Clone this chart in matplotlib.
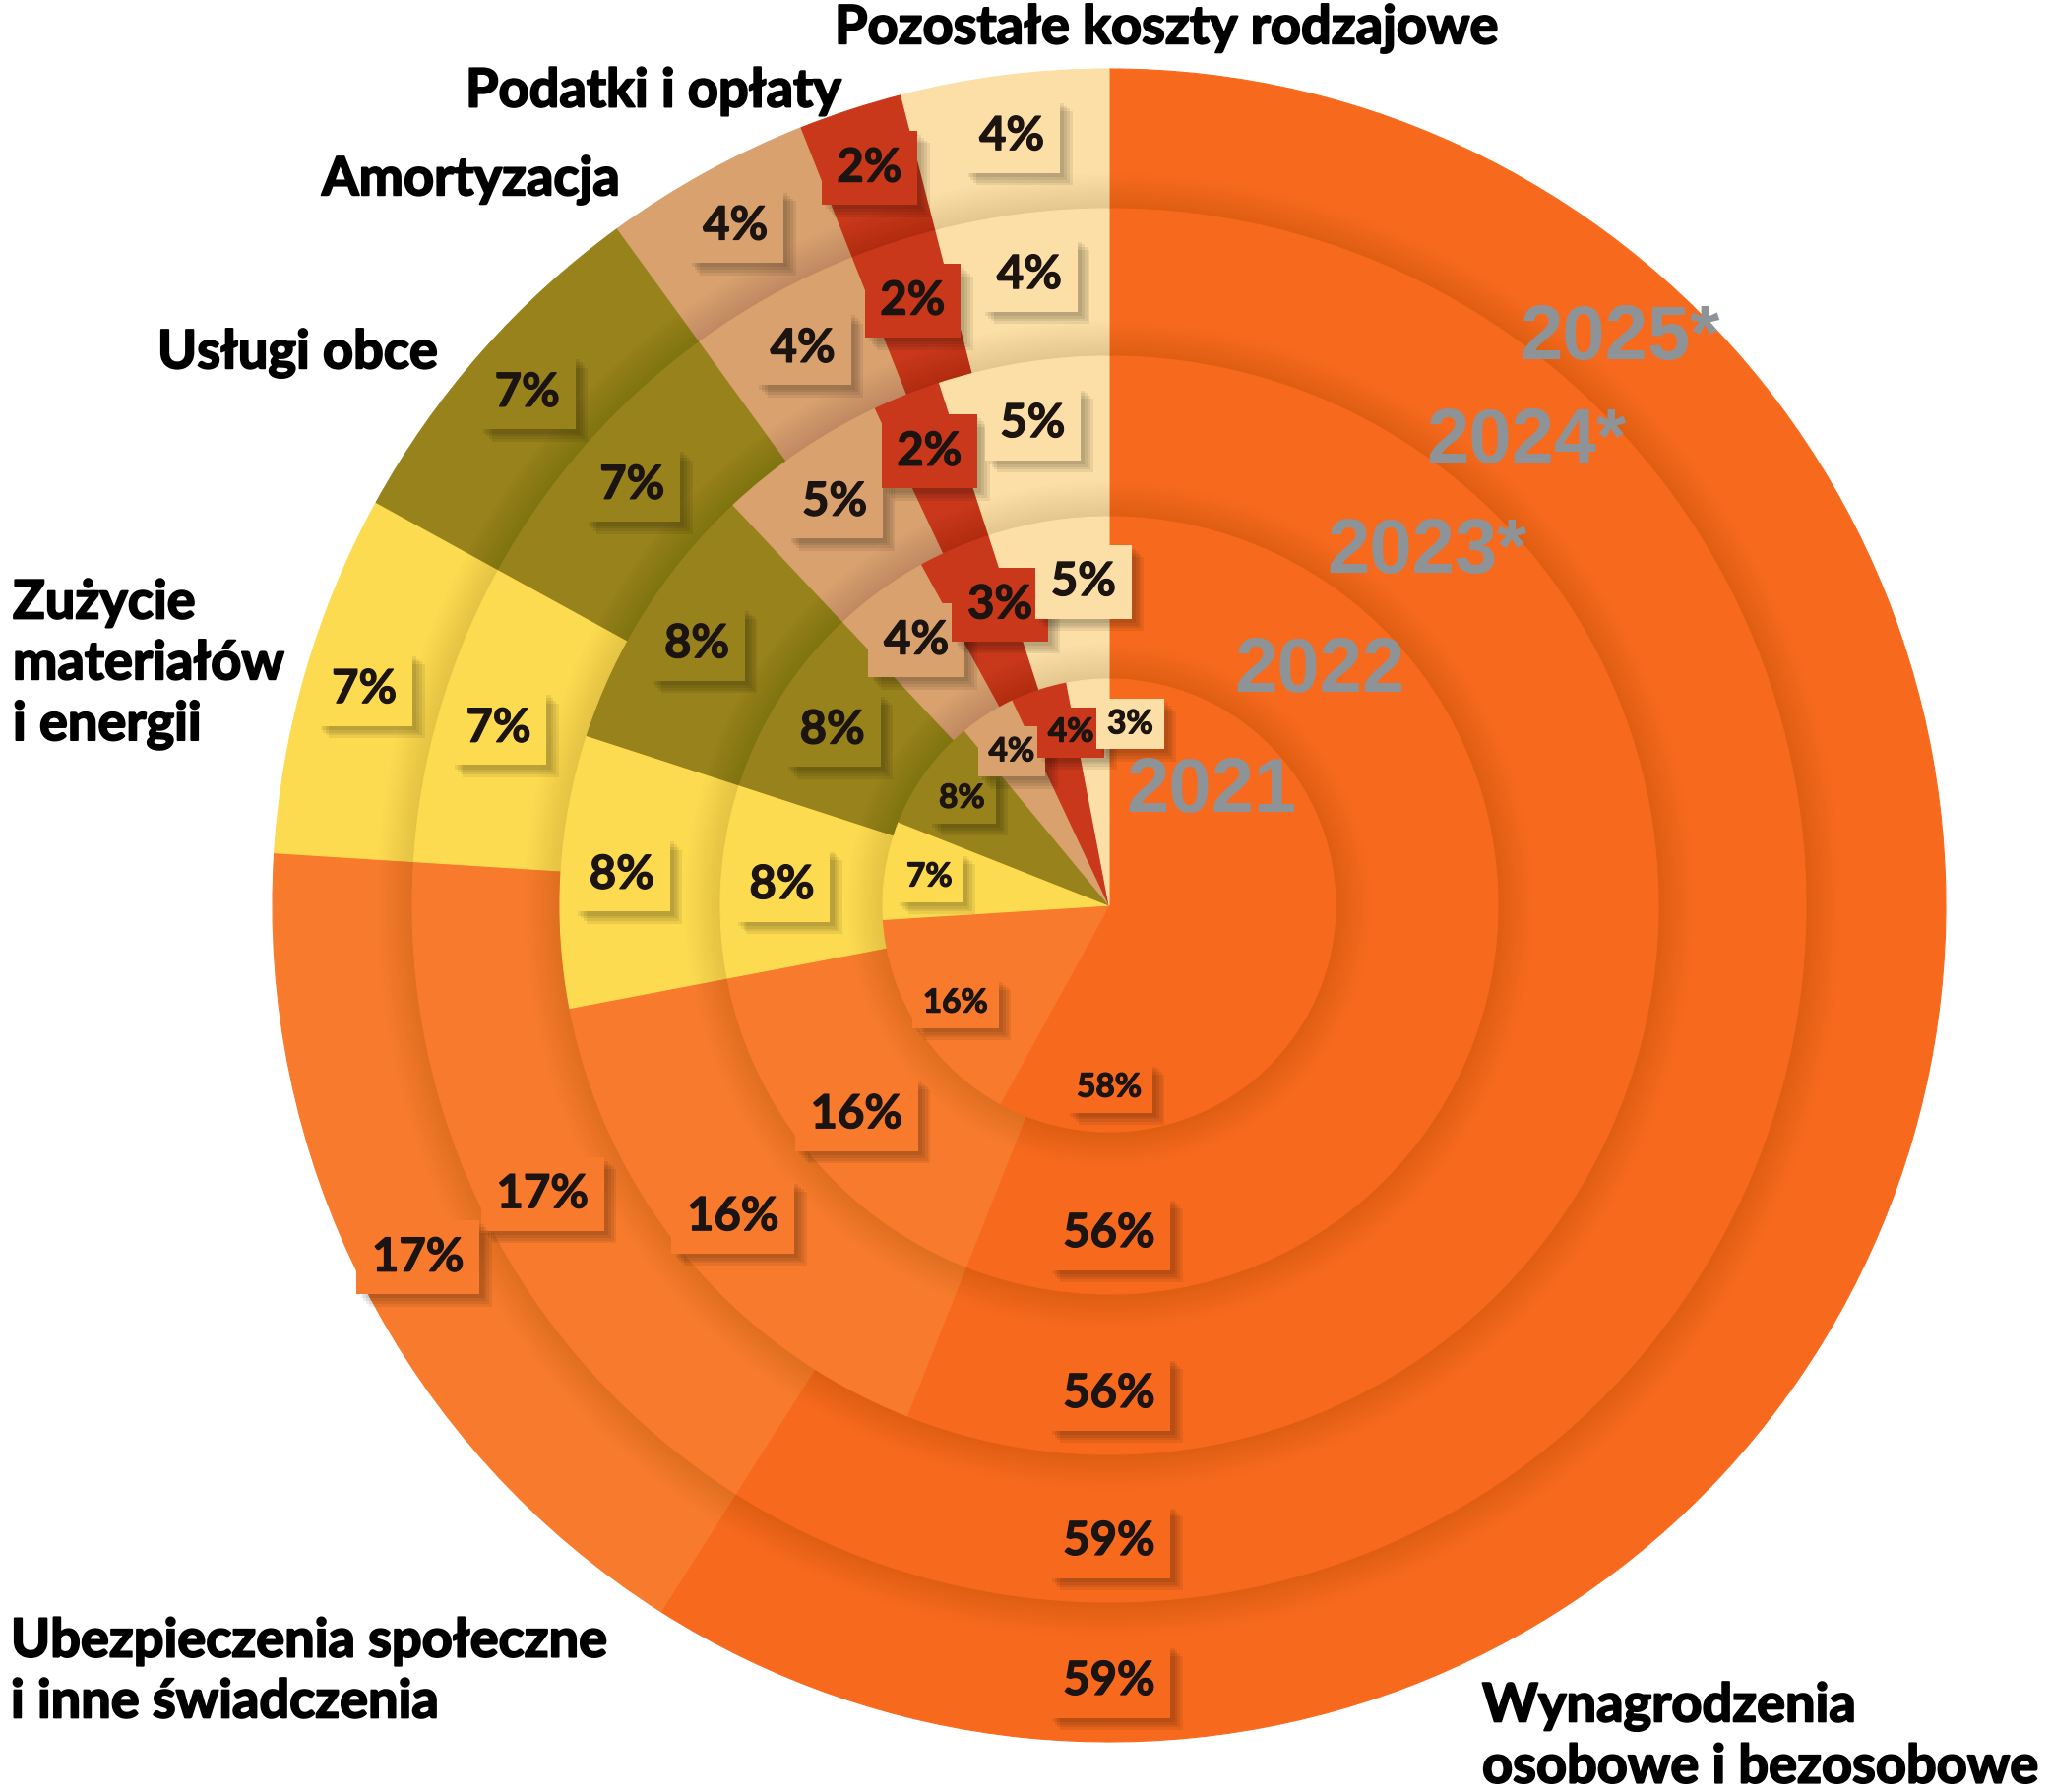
"""
Struktura kosztów rodzajowych 2021-2025* - nakładane wykresy kołowe
"""

import numpy as np
import matplotlib
matplotlib.use('Agg')
import matplotlib.pyplot as plt
from matplotlib.patches import Circle
import matplotlib.patheffects as pe

# ---- dane ----
categories = [
    'Wynagrodzenia\nosobowe i bezosobowe',
    'Ubezpieczenia społeczne\ni inne świadczenia',
    'Zużycie\nmateriałów\ni energii',
    'Usługi obce',
    'Amortyzacja',
    'Podatki i opłaty',
    'Pozostałe koszty rodzajowe',
]
years = ['2021', '2022', '2023*', '2024*', '2025*']
share_2021 = [58, 16, 7, 8, 4, 4, 3]
share_2022 = [56, 16, 8, 8, 4, 3, 5]
share_2023 = [56, 16, 8, 8, 5, 2, 5]
share_2024 = [59, 17, 7, 7, 4, 2, 4]
share_2025 = [59, 17, 7, 7, 4, 2, 4]
shares = [share_2021, share_2022, share_2023, share_2024, share_2025]

colors = ['#F76A1E', '#F87B2D', '#FDDB50', '#97821B', '#D8A16E', '#C9381B', '#FCDFA6']

# ---- układ (piksele) ----
W, H = 2084, 1821
cx, cy = 1127, H - 920
radii = [230, 395, 558, 708, 850]
font_main = ['Lato', 'DejaVu Sans']
n = len(years)

fig = plt.figure(figsize=(W / 100, H / 100), dpi=100)
ax = fig.add_axes([0, 0, 1, 1])

# kola od najwiekszego do najmniejszego, kazde wyzej od poprzedniego
for i in reversed(range(n)):
    z = 2 + (n - 1 - i)
    if i < n - 1:
        # miekki cien rzucany przez mniejsze kolo
        for k in range(12):
            ax.add_patch(Circle((cx, cy), radii[i] + 3 * (k + 1), color='black',
                                alpha=0.0075, lw=0, zorder=z - 0.5))
    wedges, _ = ax.pie(shares[i], radius=radii[i], center=(cx, cy), startangle=90,
                       counterclock=False, colors=colors,
                       wedgeprops=dict(linewidth=0.8))
    for w in wedges:
        w.set_edgecolor(w.get_facecolor())
        w.set_zorder(z)

# pie() ustawia wlasne granice - nadpisujemy je dopiero teraz
ax.set_xlim(0, W)
ax.set_ylim(0, H)
ax.set_aspect('equal')
ax.axis('off')

# miekki cien pod pudelkami etykiet
box_shadow = [pe.SimplePatchShadow(offset=(k, -k), shadow_rgbFace='black', alpha=0.07)
              for k in (9, 7, 5, 3)] + [pe.Normal()]
txt_bold = [pe.withStroke(linewidth=0.9, foreground='#1c1410')]


def boxed_label(x, y, s, fc, size):
    t = ax.text(x, y, s, color='#1c1410', fontsize=size, fontweight='bold', family=font_main,
                ha='center', va='center', zorder=10, path_effects=txt_bold,
                bbox=dict(boxstyle='square,pad=0.33', fc=fc, ec='none'))
    t.get_bbox_patch().set_path_effects(box_shadow)
    return t


# etykiety procentowe
renderer = fig.canvas.get_renderer()
for i, vals in enumerate(shares):
    r_lab = radii[i] - (45 if i == 0 else 62)
    size = 24 if i == 0 else 34
    cum = 0
    ring_labels = []
    for j, v in enumerate(vals):
        theta = np.deg2rad((cum + v / 2) / 100 * 360)
        cum += v
        if j == 0:
            theta = np.pi
        x = cx + r_lab * np.sin(theta)
        y = cy + r_lab * np.cos(theta)
        t = boxed_label(x, y, f'{v}%', colors[j], size)
        # rozsun etykiete, jesli nachodzi na poprzednia z tego samego kola
        if ring_labels:
            prev = ring_labels[-1].get_window_extent(renderer).expanded(1.25, 1.3)
            cur = t.get_window_extent(renderer).expanded(1.25, 1.3)
            if prev.overlaps(cur):
                dx = prev.x1 - cur.x0 + 2 if cur.x0 > prev.x0 else prev.x0 - cur.x1 - 2
                t.set_x(x + dx)
        ring_labels.append(t)

# etykiety lat
for i, yr in enumerate(years):
    th = np.deg2rad(42)
    r_y = radii[i] - 75
    ax.text(cx + r_y * np.sin(th), cy + r_y * np.cos(th), yr, ha='center', va='center',
            color='#8E9398', fontsize=56, fontweight='bold', family='Liberation Sans',
            zorder=11)

# nazwy kategorii
cat_pos = [(1506, 56), (11, 122), (13, 1146), (160, 1462), (327, 1638), (473, 1728), (848, 1792)]
for name, (x, y) in zip(categories, cat_pos):
    ax.text(x, y, name, ha='left', va='center', fontsize=39, fontweight='bold',
            family=font_main, color='black', linespacing=1.32, zorder=12,
            path_effects=[pe.withStroke(linewidth=1.4, foreground='black')])

fig.savefig('out.png', dpi=100, facecolor='white')
